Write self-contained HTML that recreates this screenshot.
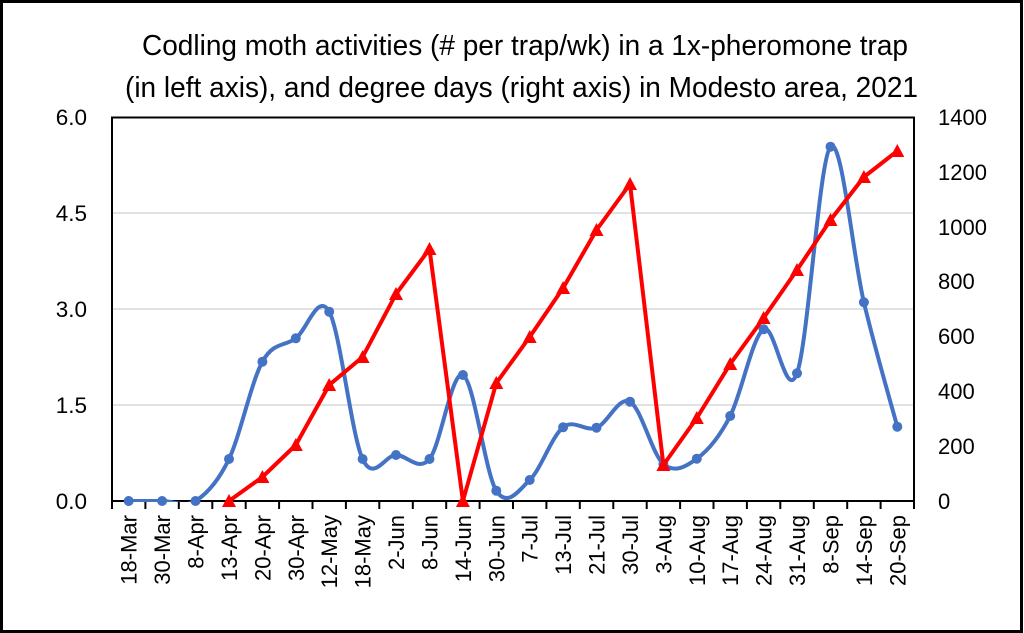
<!DOCTYPE html>
<html>
<head>
<meta charset="utf-8">
<style>
html,body{margin:0;padding:0;background:#fff;}
#wrap{position:relative;width:1024px;height:633px;overflow:hidden;background:#fff;}
svg{display:block;}
text{font-family:"Liberation Sans",Arial,sans-serif;fill:#000;}
</style>
</head>
<body>
<div id="wrap">
<svg width="1024" height="633" viewBox="0 0 1024 633" xmlns="http://www.w3.org/2000/svg">
  <defs>
    <clipPath id="pa"><rect x="112" y="116" width="802" height="386"/></clipPath>
  </defs>
  <rect x="0" y="0" width="1024" height="633" fill="#fff"/>
  <!-- outer border -->
  <rect x="1.5" y="1.5" width="1020" height="630" fill="none" stroke="#000" stroke-width="3"/>

  <!-- title -->
  <text x="142" y="55" font-size="29" textLength="766" lengthAdjust="spacingAndGlyphs">Codling moth activities (# per trap/wk) in a 1x-pheromone trap</text>
  <text x="125" y="97" font-size="29" textLength="793" lengthAdjust="spacingAndGlyphs">(in left axis), and degree days (right axis) in Modesto area, 2021</text>

  <!-- gridlines -->
  <g stroke="#d9d9d9" stroke-width="1.5">
    <line x1="112" y1="213" x2="914" y2="213"/>
    <line x1="112" y1="309" x2="914" y2="309"/>
    <line x1="112" y1="405" x2="914" y2="405"/>
  </g>

  <!-- plot border -->
  <rect x="112" y="117.5" width="802" height="383.5" fill="none" stroke="#000" stroke-width="2"/>

  <!-- x ticks -->
  <g stroke="#000" stroke-width="2">
    <line x1="112" y1="501" x2="112" y2="509"/>
    <line x1="145.4" y1="501" x2="145.4" y2="509"/>
    <line x1="178.8" y1="501" x2="178.8" y2="509"/>
    <line x1="212.3" y1="501" x2="212.3" y2="509"/>
    <line x1="245.7" y1="501" x2="245.7" y2="509"/>
    <line x1="279.1" y1="501" x2="279.1" y2="509"/>
    <line x1="312.5" y1="501" x2="312.5" y2="509"/>
    <line x1="345.9" y1="501" x2="345.9" y2="509"/>
    <line x1="379.3" y1="501" x2="379.3" y2="509"/>
    <line x1="412.8" y1="501" x2="412.8" y2="509"/>
    <line x1="446.2" y1="501" x2="446.2" y2="509"/>
    <line x1="479.6" y1="501" x2="479.6" y2="509"/>
    <line x1="513.0" y1="501" x2="513.0" y2="509"/>
    <line x1="546.4" y1="501" x2="546.4" y2="509"/>
    <line x1="579.8" y1="501" x2="579.8" y2="509"/>
    <line x1="613.3" y1="501" x2="613.3" y2="509"/>
    <line x1="646.7" y1="501" x2="646.7" y2="509"/>
    <line x1="680.1" y1="501" x2="680.1" y2="509"/>
    <line x1="713.5" y1="501" x2="713.5" y2="509"/>
    <line x1="746.9" y1="501" x2="746.9" y2="509"/>
    <line x1="780.3" y1="501" x2="780.3" y2="509"/>
    <line x1="813.8" y1="501" x2="813.8" y2="509"/>
    <line x1="847.2" y1="501" x2="847.2" y2="509"/>
    <line x1="880.6" y1="501" x2="880.6" y2="509"/>
    <line x1="914" y1="501" x2="914" y2="509"/>
  </g>

  <!-- left axis labels -->
  <g font-size="22.5" text-anchor="end">
    <text x="87" y="125">6.0</text>
    <text x="87" y="221">4.5</text>
    <text x="87" y="317">3.0</text>
    <text x="87" y="413">1.5</text>
    <text x="87" y="509">0.0</text>
  </g>
  <!-- right axis labels -->
  <g font-size="22" text-anchor="start">
    <text x="938" y="125">1400</text>
    <text x="938" y="180">1200</text>
    <text x="938" y="235">1000</text>
    <text x="938" y="289">800</text>
    <text x="938" y="344">600</text>
    <text x="938" y="399">400</text>
    <text x="938" y="454">200</text>
    <text x="938" y="509">0</text>
  </g>

  <!-- x labels -->
  <g font-size="22" text-anchor="end">
    <text transform="translate(136.7,515) rotate(-90)">18-Mar</text>
    <text transform="translate(170.1,515) rotate(-90)">30-Mar</text>
    <text transform="translate(203.5,515) rotate(-90)">8-Apr</text>
    <text transform="translate(237.0,515) rotate(-90)">13-Apr</text>
    <text transform="translate(270.4,515) rotate(-90)">20-Apr</text>
    <text transform="translate(303.8,515) rotate(-90)">30-Apr</text>
    <text transform="translate(337.2,515) rotate(-90)">12-May</text>
    <text transform="translate(370.6,515) rotate(-90)">18-May</text>
    <text transform="translate(404.0,515) rotate(-90)">2-Jun</text>
    <text transform="translate(437.5,515) rotate(-90)">8-Jun</text>
    <text transform="translate(470.9,515) rotate(-90)">14-Jun</text>
    <text transform="translate(504.3,515) rotate(-90)">30-Jun</text>
    <text transform="translate(537.7,515) rotate(-90)">7-Jul</text>
    <text transform="translate(571.1,515) rotate(-90)">13-Jul</text>
    <text transform="translate(604.5,515) rotate(-90)">21-Jul</text>
    <text transform="translate(638.0,515) rotate(-90)">30-Jul</text>
    <text transform="translate(671.4,515) rotate(-90)">3-Aug</text>
    <text transform="translate(704.8,515) rotate(-90)">10-Aug</text>
    <text transform="translate(738.2,515) rotate(-90)">17-Aug</text>
    <text transform="translate(771.6,515) rotate(-90)">24-Aug</text>
    <text transform="translate(805.0,515) rotate(-90)">31-Aug</text>
    <text transform="translate(838.5,515) rotate(-90)">8-Sep</text>
    <text transform="translate(871.9,515) rotate(-90)">14-Sep</text>
    <text transform="translate(905.3,515) rotate(-90)">20-Sep</text>
  </g>

  <!-- blue smoothed series -->
  <g clip-path="url(#pa)">
    <path fill="none" stroke="#4472C4" stroke-width="4" stroke-linejoin="round" stroke-linecap="round"
      d="M128.7,501
         C134.3,501 151.0,501 162.1,501
         C173.2,501 184.4,508 195.5,501
         C206.6,494 217.9,482.2 229.0,459
         C240.1,435.8 251.3,381.8 262.4,361.7
         C273.5,341.6 284.7,346.6 295.8,338.3
         C306.9,330.0 318.1,291.6 329.2,311.7
         C340.3,331.8 351.5,435.1 362.6,459
         C373.7,482.9 384.9,455 396.0,455
         C407.1,455 418.4,472.3 429.5,459
         C440.6,445.7 451.8,369.7 462.9,375
         C474.0,380.3 485.2,473.2 496.3,490.7
         C507.4,508.2 518.6,490.6 529.7,480
         C540.8,469.4 552.0,436.0 563.1,427.3
         C574.2,418.6 585.4,432.0 596.5,427.7
         C607.6,423.4 618.9,395.7 630.0,401.7
         C641.1,407.8 652.3,454.5 663.4,464
         C674.5,473.5 685.7,466.7 696.8,458.7
         C707.9,450.7 719.1,437.6 730.2,416
         C741.3,394.4 752.5,336.4 763.6,329.3
         C774.7,322.2 785.9,403.7 797.0,373.3
         C808.1,342.9 819.4,158.5 830.5,146.7
         C841.6,134.9 852.8,255.6 863.9,302.3
         C875.0,349.0 891.7,406.0 897.3,426.7"/>
  </g>
  <g fill="#4472C4">
    <circle cx="128.7" cy="501" r="5"/>
    <circle cx="162.1" cy="501" r="5"/>
    <circle cx="195.5" cy="501" r="5"/>
    <circle cx="229.0" cy="459" r="5"/>
    <circle cx="262.4" cy="361.7" r="5"/>
    <circle cx="295.8" cy="338.3" r="5"/>
    <circle cx="329.2" cy="311.7" r="5"/>
    <circle cx="362.6" cy="459" r="5"/>
    <circle cx="396.0" cy="455" r="5"/>
    <circle cx="429.5" cy="459" r="5"/>
    <circle cx="462.9" cy="375" r="5"/>
    <circle cx="496.3" cy="490.7" r="5"/>
    <circle cx="529.7" cy="480" r="5"/>
    <circle cx="563.1" cy="427.3" r="5"/>
    <circle cx="596.5" cy="427.7" r="5"/>
    <circle cx="630.0" cy="401.7" r="5"/>
    <circle cx="663.4" cy="464" r="5"/>
    <circle cx="696.8" cy="458.7" r="5"/>
    <circle cx="730.2" cy="416" r="5"/>
    <circle cx="763.6" cy="329.3" r="5"/>
    <circle cx="797.0" cy="373.3" r="5"/>
    <circle cx="830.5" cy="146.7" r="5"/>
    <circle cx="863.9" cy="302.3" r="5"/>
    <circle cx="897.3" cy="426.7" r="5"/>
  </g>

  <!-- red series -->
  <g clip-path="url(#pa)">
    <polyline fill="none" stroke="#FF0000" stroke-width="4" stroke-linejoin="round"
      points="229.0,501 262.4,477 295.8,445 329.2,385 362.6,357 396.0,294 429.5,249 462.9,501 496.3,383 529.7,337 563.1,288 596.5,230 630.0,184 663.4,465 696.8,418 730.2,364 763.6,318 797.0,270 830.5,220 863.9,177 897.3,151"/>
  </g>
  <g fill="#FF0000">
    <polygon points="229,494 236,507 222,507"/>
    <polygon points="262.4,470 269.4,483 255.4,483"/>
    <polygon points="295.8,438 302.8,451 288.8,451"/>
    <polygon points="329.2,378 336.2,391 322.2,391"/>
    <polygon points="362.6,350 369.6,363 355.6,363"/>
    <polygon points="396,287 403,300 389,300"/>
    <polygon points="429.5,242 436.5,255 422.5,255"/>
    <polygon points="462.9,494 469.9,507 455.9,507"/>
    <polygon points="496.3,376 503.3,389 489.3,389"/>
    <polygon points="529.7,330 536.7,343 522.7,343"/>
    <polygon points="563.1,281 570.1,294 556.1,294"/>
    <polygon points="596.5,223 603.5,236 589.5,236"/>
    <polygon points="630,177 637,190 623,190"/>
    <polygon points="663.4,458 670.4,471 656.4,471"/>
    <polygon points="696.8,411 703.8,424 689.8,424"/>
    <polygon points="730.2,357 737.2,370 723.2,370"/>
    <polygon points="763.6,311 770.6,324 756.6,324"/>
    <polygon points="797,263 804,276 790,276"/>
    <polygon points="830.5,213 837.5,226 823.5,226"/>
    <polygon points="863.9,170 870.9,183 856.9,183"/>
    <polygon points="897.3,144 904.3,157 890.3,157"/>
  </g>
</svg>
</div>
</body>
</html>
